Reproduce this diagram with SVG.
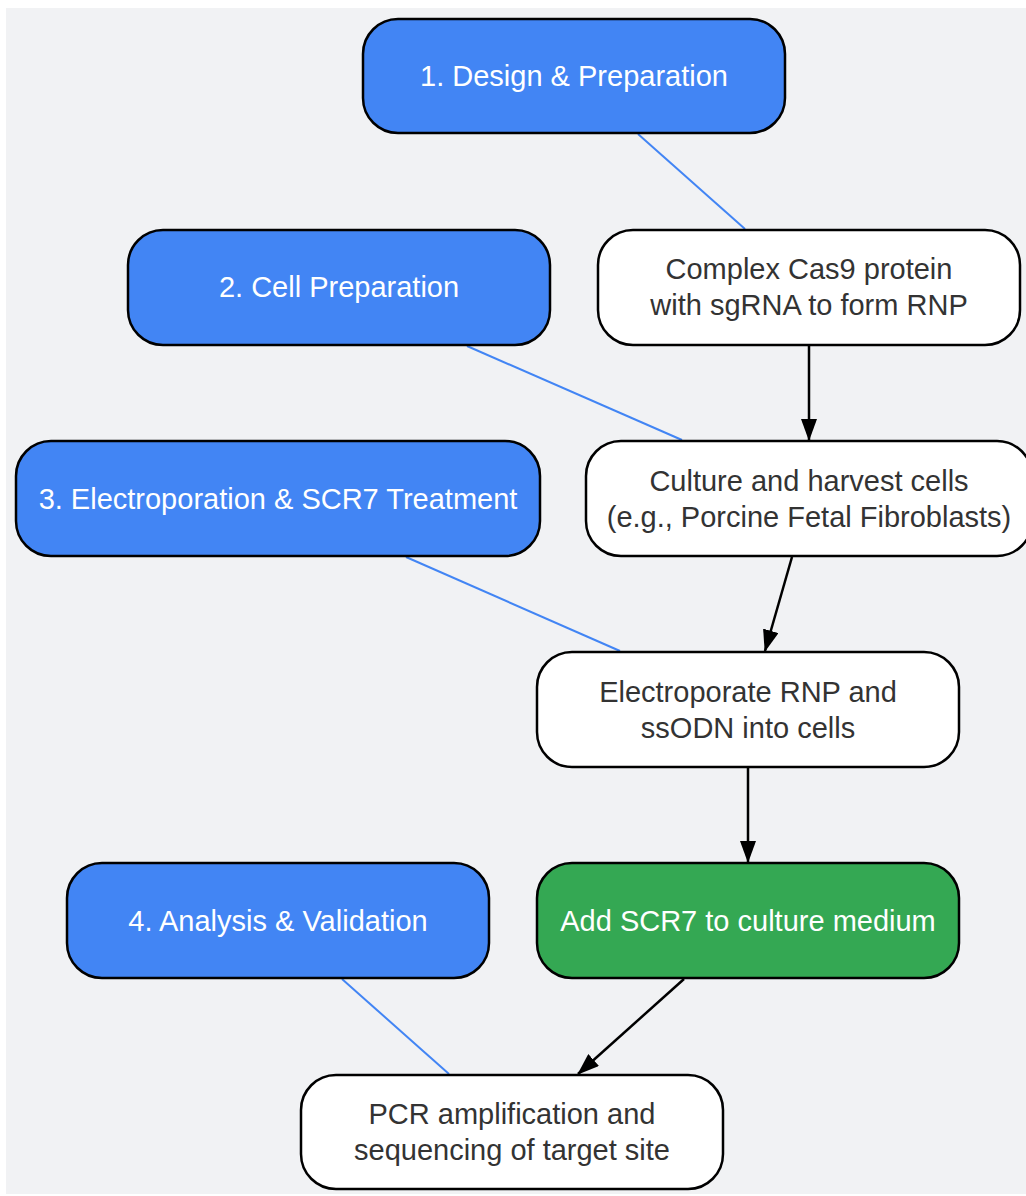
<svg xmlns="http://www.w3.org/2000/svg" width="1026" height="1196" viewBox="0 0 1026 1196">
<style>
.n rect{stroke:#000;stroke-width:2.5}
.b rect{fill:#4285f4}
.w rect{fill:#fff}
.g rect{fill:#34a853}
text{font-family:"Liberation Sans",Arial,sans-serif;font-size:29px;text-anchor:middle;dominant-baseline:central}
.b text,.g text{fill:#fff}
.w text{fill:#333}
.bl{stroke:#4285f4;stroke-width:2;fill:none}
.ar{stroke:#000;stroke-width:2.5;fill:none;marker-end:url(#ah)}
</style>
<defs>
<marker id="ah" viewBox="0 0 22 16" refX="21" refY="8" markerWidth="22" markerHeight="16" markerUnits="userSpaceOnUse" orient="auto">
<path d="M0,0L22,8L0,16z" fill="#000"/>
</marker>
</defs>
<rect x="6" y="8" width="1020" height="1186" fill="#f1f2f4"/>
<g id="connectors">
<line class="bl" x1="638" y1="134" x2="745" y2="229"/>
<line class="bl" x1="467" y1="346" x2="682" y2="440"/>
<line class="bl" x1="406" y1="557" x2="620" y2="651"/>
<line class="bl" x1="342" y1="979" x2="449" y2="1074"/>
<line class="ar" x1="809" y1="346" x2="809" y2="440"/>
<line class="ar" x1="792" y1="557" x2="765" y2="651"/>
<line class="ar" x1="748" y1="768" x2="748" y2="862"/>
<line class="ar" x1="684" y1="979" x2="578" y2="1074"/>
</g>
<g id="n1" class="n b"><rect x="363" y="19" width="422" height="114" rx="35"/><text x="574" y="76">1. Design &amp; Preparation</text></g>
<g id="n2" class="n w"><rect x="598" y="230" width="422" height="115" rx="35"/><text x="809" y="269">Complex Cas9 protein</text><text x="809" y="305">with sgRNA to form RNP</text></g>
<g id="n3" class="n b"><rect x="128" y="230" width="422" height="115" rx="35"/><text x="339" y="287">2. Cell Preparation</text></g>
<g id="n4" class="n w"><rect x="586" y="441" width="446" height="115" rx="35"/><text x="809" y="481">Culture and harvest cells</text><text x="809" y="517">(e.g., Porcine Fetal Fibroblasts)</text></g>
<g id="n5" class="n b"><rect x="16" y="441" width="524" height="115" rx="35"/><text x="278" y="499">3. Electroporation &amp; SCR7 Treatment</text></g>
<g id="n6" class="n w"><rect x="537" y="652" width="422" height="115" rx="35"/><text x="748" y="692">Electroporate RNP and</text><text x="748" y="728">ssODN into cells</text></g>
<g id="n7" class="n b"><rect x="67" y="863" width="422" height="115" rx="35"/><text x="278" y="921">4. Analysis &amp; Validation</text></g>
<g id="n8" class="n g"><rect x="537" y="863" width="422" height="115" rx="35"/><text x="748" y="921">Add SCR7 to culture medium</text></g>
<g id="n9" class="n w"><rect x="301" y="1075" width="422" height="114" rx="35"/><text x="512" y="1114">PCR amplification and</text><text x="512" y="1150">sequencing of target site</text></g>
</svg>
